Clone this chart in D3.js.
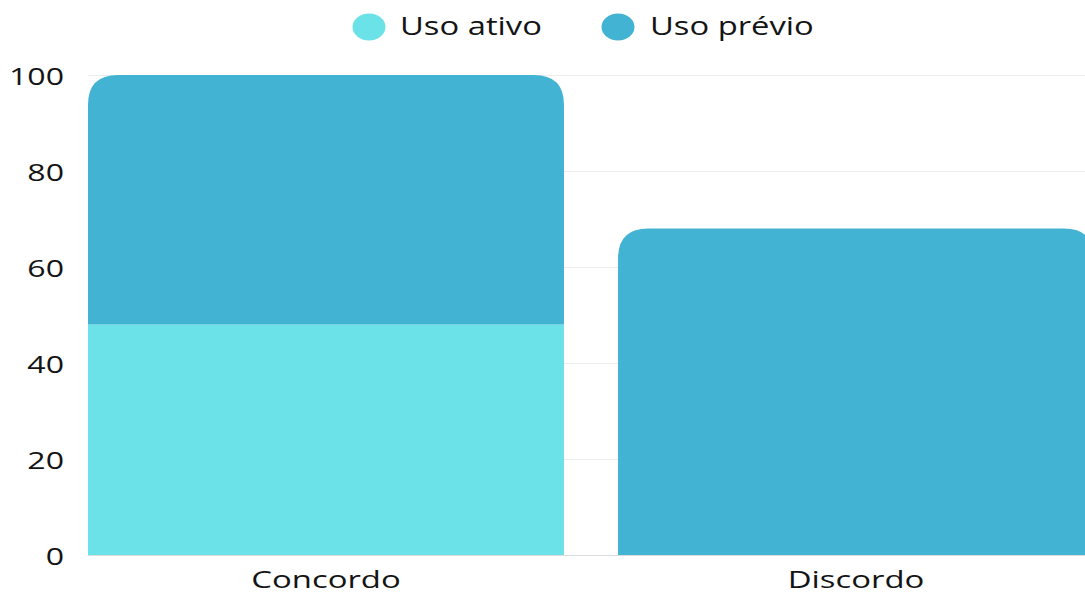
<!DOCTYPE html>
<html>
<head>
<meta charset="utf-8">
<script src="https://cdn.jsdelivr.net/npm/d3@7"></script>
<style>
  html, body { margin: 0; padding: 0; background: #fff; overflow: hidden; }
  svg { display: block; font-family: "Open Sans", "Noto Sans", sans-serif; }
</style>
</head>
<body>
<svg id="chart" width="1085" height="597"></svg>
<script>
// Categories, series and values
const categories = ["Concordo", "Discordo"];
const seriesNames = ["Uso ativo", "Uso prévio"];
const usoAtivo = [48, 0];
const usoPrevio = [52, 68];
const yTicks = [0, 20, 40, 60, 80, 100];
const colors = ["#6ae2e8", "#42b3d2"];

const svg = d3.select("#chart");
const W = 1085, H = 597;
const margin = { top: 75, bottom: 42, left: 88 };
const plotRight = 1094;
const textColor = "#141414";

const rows = categories.map((c, i) => ({ cat: c, "Uso ativo": usoAtivo[i], "Uso prévio": usoPrevio[i] }));
const stacked = d3.stack().keys(seriesNames)(rows);

const x = d3.scaleBand().domain(categories).range([margin.left, plotRight]).paddingInner(0.102).paddingOuter(0);
const y = d3.scaleLinear().domain([0, 100]).range([H - margin.bottom, margin.top]);

// Text drawn with a horizontal stretch around its anchor point
function wideText(g, px, py, txt, size, sx, anchor) {
  return g.append("text")
    .attr("transform", `translate(${px},${py}) scale(${sx},1)`)
    .attr("text-anchor", anchor)
    .attr("font-size", size)
    .attr("fill", textColor)
    .text(txt);
}

// Gridlines
svg.append("g")
  .selectAll("line")
  .data(yTicks.filter(d => d > 0))
  .join("line")
  .attr("x1", margin.left).attr("x2", W)
  .attr("y1", d => y(d) + 0.5).attr("y2", d => y(d) + 0.5)
  .attr("stroke", "#ececec").attr("stroke-width", 1);

// Y tick labels
const yLab = svg.append("g");
yTicks.forEach(t => wideText(yLab, 64, y(t) + 9.5, d3.format("d")(t), 24.5, 1.31, "end"));

// Rounded-top bar path
const R = 30;
function barPath(x0, w, yTop, yBot, rounded) {
  const h = yBot - yTop;
  if (!rounded) return `M${x0},${yBot}V${yTop}H${x0 + w}V${yBot}Z`;
  const r = Math.min(R, h, w / 2);
  return `M${x0},${yBot}V${yTop + r}Q${x0},${yTop} ${x0 + r},${yTop}` +
         `H${x0 + w - r}Q${x0 + w},${yTop} ${x0 + w},${yTop + r}V${yBot}Z`;
}

// Top-most non-empty segment of each category gets the rounded corners
const topKey = categories.map((c, i) => {
  let k = null;
  stacked.forEach(s => { if (s[i][1] - s[i][0] > 0) k = s.key; });
  return k;
});

stacked.forEach((s, si) => {
  svg.append("g").selectAll("path")
    .data(s.filter(d => d[1] - d[0] > 0))
    .join("path")
    .attr("fill", colors[si])
    .attr("d", d => {
      const i = categories.indexOf(d.data.cat);
      return barPath(x(d.data.cat), x.bandwidth(), y(d[1]), y(d[0]), topKey[i] === s.key);
    });
});

// Baseline
svg.append("line")
  .attr("x1", margin.left).attr("x2", W)
  .attr("y1", y(0) + 0.5).attr("y2", y(0) + 0.5)
  .attr("stroke", "#dcdcdc").attr("stroke-width", 1);

// X category labels
const xLab = svg.append("g");
categories.forEach(c => wideText(xLab, x(c) + x.bandwidth() / 2, y(0) + 33, c, 24, 1.37, "middle"));

// Legend
const legendItems = [
  { name: seriesNames[0], color: colors[0], cx: 369, tx: 400 },
  { name: seriesNames[1], color: colors[1], cx: 618, tx: 650 }
];
const lg = svg.append("g");
lg.selectAll("ellipse").data(legendItems).join("ellipse")
  .attr("cx", d => d.cx).attr("cy", 27).attr("rx", 16.5).attr("ry", 13.5)
  .attr("fill", d => d.color);
legendItems.forEach(d => wideText(lg, d.tx, 34.5, d.name, 26, 1.26, "start"));
</script>
</body>
</html>
